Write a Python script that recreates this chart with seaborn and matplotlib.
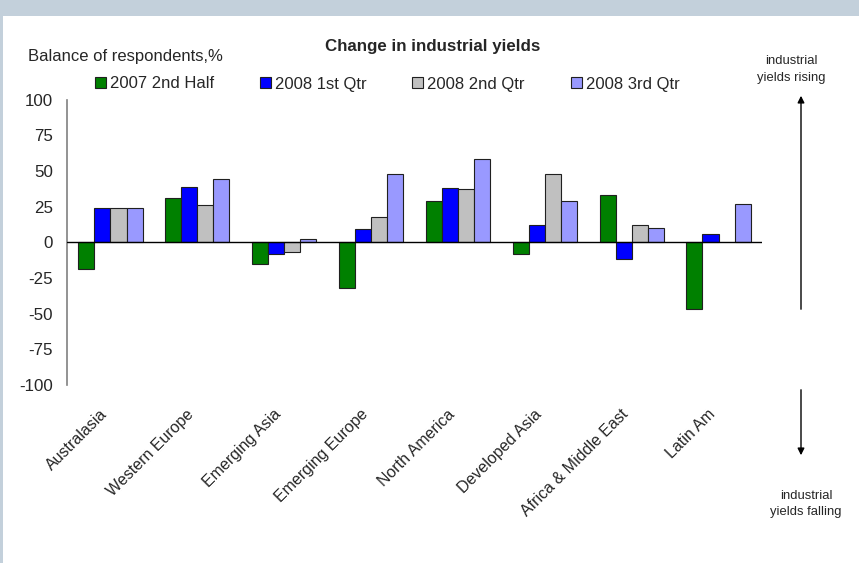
import numpy as np
import pandas as pd
import matplotlib
matplotlib.use("Agg")
import matplotlib.pyplot as plt
import matplotlib.transforms as mtransforms
import seaborn as sns
from matplotlib.patches import Rectangle, FancyArrowPatch

regions = ["Australasia", "Western Europe", "Emerging Asia", "Emerging Europe",
           "North America", "Developed Asia", "Africa & Middle East", "Latin Am"]
series = ["2007 2nd Half", "2008 1st Qtr", "2008 2nd Qtr", "2008 3rd Qtr"]
h2_2007 = [-19, 31, -15, -32, 29, -8, 33, -47]
q1_2008 = [24, 39, -8, 9, 38, 12, -12, 6]
q2_2008 = [24, 26, -7, 18, 37, 48, 12, np.nan]
q3_2008 = [24, 44, 2, 48, 58, 29, 10, 27]
colors = ["#008000", "#0000FF", "#C0C0C0", "#9999FF"]
yticks = [100, 75, 50, 25, 0, -25, -50, -75, -100]

rows = []
for s, vals in zip(series, [h2_2007, q1_2008, q2_2008, q3_2008]):
    for r, v in zip(regions, vals):
        rows.append({"region": r, "series": s, "value": v})
df = pd.DataFrame(rows)

sns.set_style("white")
plt.rcParams["font.family"] = ["Liberation Sans", "DejaVu Sans"]

fig = plt.figure(figsize=(8.59, 5.63), dpi=100)
fig.patch.set_facecolor("white")
# border band
fig.patches.append(Rectangle((0, 1 - 16 / 563), 1, 16 / 563, transform=fig.transFigure,
                             facecolor="#C3D0DB", edgecolor="none", zorder=0))
fig.patches.append(Rectangle((0, 0), 3 / 859, 1, transform=fig.transFigure,
                             facecolor="#C3D0DB", edgecolor="none", zorder=0))

ax = fig.add_axes([67 / 859, 1 - 385 / 563, (762 - 67) / 859, (385 - 99.5) / 563])
sns.barplot(data=df, x="region", y="value", hue="series", order=regions,
            hue_order=series, palette=colors, saturation=1, width=0.74,
            edgecolor="#202020", linewidth=0.8, ax=ax, legend=False, errorbar=None)

ax.set_xlim(-0.5, 7.5)
ax.set_ylim(-100, 100)
ax.set_yticks(yticks)
ax.set_yticklabels([str(t) for t in yticks], fontsize=12.2)
ax.tick_params(axis="y", length=0, pad=10)
ax.tick_params(axis="x", length=0, pad=9)
ax.set_xlabel("")
ax.set_ylabel("")
offset = mtransforms.ScaledTranslation(-11 / 100, -9 / 100, fig.dpi_scale_trans)
for lab in ax.get_xticklabels():
    lab.set_rotation(45)
    lab.set_ha("right")
    lab.set_rotation_mode("anchor")
    lab.set_fontsize(11.5)
    lab.set_transform(lab.get_transform() + offset)
for sp in ["top", "right", "bottom"]:
    ax.spines[sp].set_visible(False)
ax.spines["left"].set_color("#808080")
ax.spines["left"].set_linewidth(1.2)
ax.axhline(0, color="black", lw=1.0, zorder=5)

# texts
fig.text(433 / 859, 1 - 47 / 563, "Change in industrial yields", ha="center", va="center",
         fontsize=12.2, fontweight="bold")
fig.text(28 / 859, 1 - 57 / 563, "Balance of respondents,%", ha="left", va="center", fontsize=12)
fig.text(791 / 859, 1 - 69.5 / 563, "industrial\nyields rising", ha="center", va="center",
         fontsize=9.4, linespacing=1.55)
fig.text(806 / 859, 1 - 504 / 563, "industrial\nyields falling", ha="center", va="center",
         fontsize=9.4, linespacing=1.55)

# arrows
fig.add_artist(FancyArrowPatch(
    (801 / 859, 1 - 312 / 563), (801 / 859, 1 - 93 / 563), transform=fig.transFigure,
    arrowstyle="-|>,head_length=4,head_width=2", color="black", lw=1.0, mutation_scale=1))
fig.add_artist(FancyArrowPatch(
    (801 / 859, 1 - 387 / 563), (801 / 859, 1 - 458 / 563), transform=fig.transFigure,
    arrowstyle="-|>,head_length=4,head_width=2", color="black", lw=1.0, mutation_scale=1))

handles = [Rectangle((0, 0), 1, 1, facecolor=c, edgecolor="#202020", linewidth=0.8) for c in colors]
fig.legend(handles, series, loc="center left", bbox_to_anchor=(95 / 859, 1 - 84 / 563),
           ncol=4, frameon=False, fontsize=12, handlelength=0.65, handleheight=0.65,
           handletextpad=0.25, columnspacing=2.75, borderpad=0, borderaxespad=0)

fig.savefig("out.png", dpi=100)
